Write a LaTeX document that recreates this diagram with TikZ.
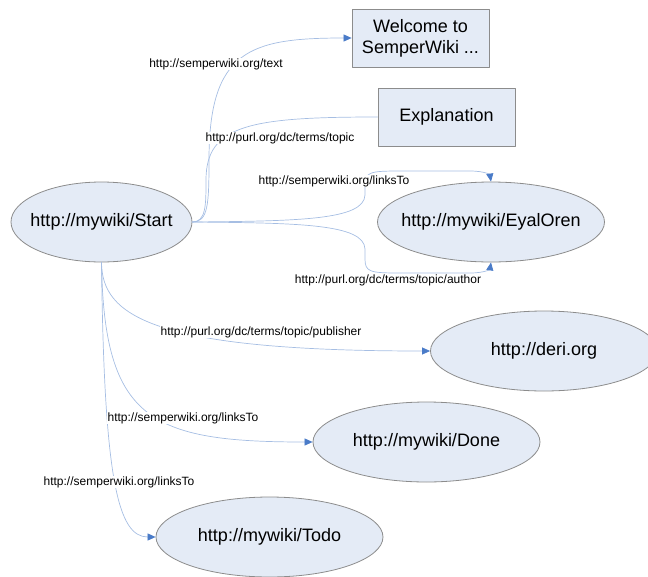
\documentclass[tikz,border=0pt]{standalone}
\usepackage{fontspec}
\setmainfont{Liberation Sans}
\usetikzlibrary{arrows.meta,shapes.geometric}
\definecolor{nodefill}{HTML}{E4EBF6}
\definecolor{nodeline}{HTML}{8C8C8C}
\definecolor{edgeline}{HTML}{A6BEE3}
\definecolor{tipblue}{HTML}{4A7BC8}
\newcommand{\uri}[1]{\makebox[0pt]{#1}}

\begin{document}
\begin{tikzpicture}[x=1pt,y=-1pt,line cap=round,line join=round,
        >={Triangle[length=8pt,width=7pt,color=tipblue]},
        res/.style={ellipse,draw=nodeline,fill=nodefill,line width=0.8pt,minimum width=227pt,minimum height=80pt,inner sep=0pt,font=\fontsize{18}{21}\selectfont},
        lit/.style={rectangle,draw=nodeline,fill=nodefill,line width=0.8pt,minimum width=137pt,minimum height=58pt,align=center,font=\fontsize{18}{21}\selectfont},
        edge/.style={draw=edgeline,line width=0.7pt},
        prop/.style={fill=white,inner sep=0.5pt,font=\fontsize{12}{14}\selectfont}]
        \useasboundingbox (0,0) rectangle (648,576);

        \node [res,minimum width=181pt] (start) at (101.5,222) {\uri{http://mywiki/Start}};
        \node [lit] (welcome) at (420.5,38) {Welcome to\\SemperWiki ...};
        \node [lit] (expl) at (446.5,117) {Explanation};
        \node [res] (eyal) at (491,222) {\uri{http://mywiki/EyalOren}};
        \node [res] (deri) at (544,351) {\uri{http://deri.org}};
        \node [res] (done) at (426.5,442) {\uri{http://mywiki/Done}};
        \node [res] (todo) at (269.5,537) {\uri{http://mywiki/Todo}};

        \draw [edge,->] (start.east) .. controls (208,222) and (209,205) .. (209,160) .. controls (209,50) and (250,38) .. (welcome.west);
        \draw [edge] (start.east) .. controls (206,222) and (206,205) .. (206,180) .. controls (206,125) and (250,117) .. (expl.west);
        \draw [edge,->] (start.east) .. controls (300,221) and (364,220) .. (365,195) -- (365,185) .. controls (365,172) and (370,171) .. (400,171) -- (470,171) .. controls (485,171) and (490,175) .. (eyal.north);
        \draw [edge,->] (start.east) .. controls (300,223) and (364,224) .. (365,249) -- (365,259) .. controls (365,272) and (370,273) .. (400,273) -- (470,273) .. controls (485,273) and (490,269) .. (eyal.south);
        \draw [edge,->] (start.south) .. controls (102,315) and (150,351) .. (deri.west);
        \draw [edge,->] (start.south) .. controls (104,420) and (150,442) .. (done.west);
        \draw [edge,->] (start.south) .. controls (104,480) and (118,537) .. (todo.west);

        \node [prop] (ptext) at (216,64) {http://semperwiki.org/text};
        \node [prop] (ptopic) at (280,138) {http://purl.org/dc/terms/topic};
        \node [prop] (plinkseyal) at (334,181) {http://semperwiki.org/linksTo};
        \node [prop] (pauthor) at (388,280) {http://purl.org/dc/terms/topic/author};
        \node [prop] (ppublisher) at (261,332) {http://purl.org/dc/terms/topic/publisher};
        \node [prop] (plinksdone) at (183,418) {http://semperwiki.org/linksTo};
        \node [prop] (plinkstodo) at (119,482) {http://semperwiki.org/linksTo};
\end{tikzpicture}
\end{document}
